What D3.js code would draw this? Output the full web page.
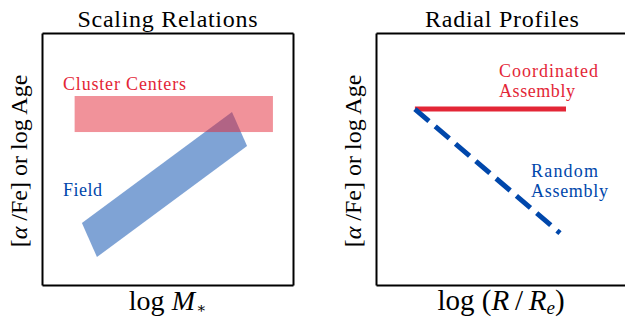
<!DOCTYPE html>
<html>
<head>
<meta charset="utf-8">
<script src="https://cdn.jsdelivr.net/npm/d3@7"></script>
<style>
  html, body { margin: 0; padding: 0; background: #fff; }
  svg { display: block; }
  svg text { font-family: "Liberation Serif", "Times New Roman", serif; }
</style>
</head>
<body>
<svg id="chart" width="625" height="320"></svg>
<script>
// Schematic coordinates (0–1 in each panel's arbitrary units)

// Left panel: scaling relations
const clusterBandX = [0.13, 0.92];
const clusterBandY = [0.607, 0.75];
const fieldBandX = [0.159, 0.219, 0.817, 0.757];
const fieldBandY = [0.246, 0.111, 0.552, 0.687];

// Right panel: radial profiles
const coordinatedX = [0.155, 0.757];
const coordinatedY = [0.698, 0.698];
const randomX = [0.155, 0.733];
const randomY = [0.698, 0.206];

const panelTitles = ["Scaling Relations", "Radial Profiles"];

const RED = "#e32636";
const BLUE = "#0047ab";
const SERIF = "'Liberation Serif', 'Times New Roman', serif";

const svg = d3.select("#chart");

const panelH = { top: 33, bottom: 285 };
const panels = [
  { left: 42, right: 293 },
  { left: 376, right: 627 }
];

const y = d3.scaleLinear().domain([0, 1]).range([panelH.bottom, panelH.top]);
const xs = panels.map(p => d3.scaleLinear().domain([0, 1]).range([p.left, p.right]));

// Frame drawn as tick-less axes on all four sides
function frame(g, x) {
  const noTicks = a => a.tickValues([]).tickSizeOuter(0);
  g.append("g").attr("transform", `translate(0,${panelH.bottom})`).call(noTicks(d3.axisBottom(x)));
  g.append("g").attr("transform", `translate(0,${panelH.top})`).call(noTicks(d3.axisTop(x)));
  g.append("g").attr("transform", `translate(${x.range()[0]},0)`).call(noTicks(d3.axisLeft(y)));
  g.append("g").attr("transform", `translate(${x.range()[1]},0)`).call(noTicks(d3.axisRight(y)));
  g.selectAll(".domain").attr("stroke", "#000").attr("stroke-width", 2);
  g.selectAll(".tick").remove();
}

// Text spread with letter-spacing so it spans the wanted width
function label(g, str, x0, y0, size, color, width) {
  const t = g.append("text")
    .attr("x", x0).attr("y", y0)
    .style("font-family", SERIF)
    .style("font-size", size + "px")
    .attr("fill", color)
    .text(str);
  if (width) {
    const natural = t.node().getComputedTextLength();
    const extra = (width - natural) / Math.max(1, str.length - 1);
    t.style("letter-spacing", extra.toFixed(2) + "px");
  }
  return t;
}

function yLabel(g, cx) {
  const t = g.append("text")
    .attr("transform", `translate(${cx},${(panelH.top + panelH.bottom) / 2 + 2}) rotate(-90)`)
    .attr("text-anchor", "middle")
    .style("font-family", SERIF)
    .style("font-size", "24px")
    .attr("fill", "#000");
  t.append("tspan").text("[");
  t.append("tspan").attr("font-style", "italic").text("α");
  t.append("tspan").text(" /Fe] or log Age");
}

// ---------- Left panel ----------
const gL = svg.append("g");
const xL = xs[0];

gL.append("polygon")
  .attr("points", fieldBandX.map((d, i) => [xL(d), y(fieldBandY[i])].join(",")).join(" "))
  .attr("fill", BLUE).attr("fill-opacity", 0.5);

gL.append("rect")
  .attr("x", xL(clusterBandX[0]))
  .attr("y", y(clusterBandY[1]))
  .attr("width", xL(clusterBandX[1]) - xL(clusterBandX[0]))
  .attr("height", y(clusterBandY[0]) - y(clusterBandY[1]))
  .attr("fill", RED).attr("fill-opacity", 0.5);

frame(gL, xL);

label(gL, panelTitles[0], xL(0.5) - 90, 27, 24, "#000", 180);
label(gL, "Cluster Centers", 63, 90, 18, RED, 123);
label(gL, "Field", 63, 196, 18, BLUE, 39);

yLabel(gL, 27);

const xlabL = gL.append("text")
  .attr("x", xL(0.5)).attr("y", 310)
  .attr("text-anchor", "middle")
  .style("font-family", SERIF)
  .style("font-size", "28px");
xlabL.append("tspan").text("log ");
xlabL.append("tspan").attr("font-style", "italic").text("M");
xlabL.append("tspan")
  .style("font-family", "'DejaVu Serif', serif")
  .style("font-size", "15px")
  .attr("dx", 1).attr("dy", 3)
  .text("∗");

// ---------- Right panel ----------
const gR = svg.append("g");
const xR = xs[1];

const line = d3.line().x(d => xR(d[0])).y(d => y(d[1]));

gR.append("path")
  .datum(coordinatedX.map((d, i) => [d, coordinatedY[i]]))
  .attr("d", line)
  .attr("fill", "none")
  .attr("stroke", RED)
  .attr("stroke-width", 5);

gR.append("path")
  .datum(randomX.map((d, i) => [d, randomY[i]]))
  .attr("d", line)
  .attr("fill", "none")
  .attr("stroke", BLUE)
  .attr("stroke-width", 5)
  .attr("stroke-dasharray", "18.5,8.2");

frame(gR, xR);

label(gR, panelTitles[1], 425, 27, 24, "#000", 154);
label(gR, "Coordinated", 499, 77, 18, RED, 99);
label(gR, "Assembly", 499, 97, 18, RED, 76);
label(gR, "Random", 531, 177, 18, BLUE, 67);
label(gR, "Assembly", 531, 197, 18, BLUE, 77);

yLabel(gR, 361);

const xlabR = gR.append("text")
  .attr("x", 501).attr("y", 310)
  .attr("text-anchor", "middle")
  .style("font-family", SERIF)
  .style("font-size", "29px");
xlabR.append("tspan").text("log (");
xlabR.append("tspan").attr("font-style", "italic").text("R");
xlabR.append("tspan").text("\u2009/\u2009");
xlabR.append("tspan").attr("font-style", "italic").text("R");
xlabR.append("tspan").attr("font-style", "italic").style("font-size", "19px").attr("dy", 4).text("e");
xlabR.append("tspan").attr("dy", -4).text(")");
</script>
</body>
</html>
